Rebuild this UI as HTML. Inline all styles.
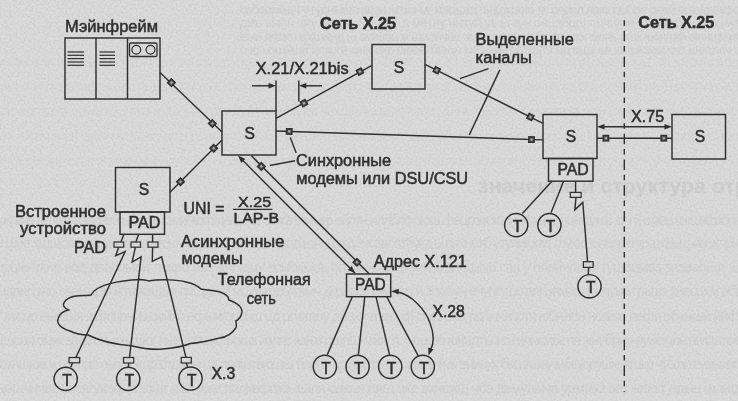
<!DOCTYPE html>
<html><head><meta charset="utf-8"><style>
html,body{margin:0;padding:0;background:#dcdcdc;}
svg{display:block;will-change:transform;}
text{font-family:"Liberation Sans",sans-serif;fill:#303030;stroke:#303030;stroke-width:0.5px;}
</style></head><body>
<svg width="738" height="401" viewBox="0 0 738 401">
<defs><filter id="nz" x="0" y="0" width="100%" height="100%" filterUnits="userSpaceOnUse">
<feTurbulence type="fractalNoise" baseFrequency="0.5" numOctaves="2" seed="7"/>
<feColorMatrix type="matrix" values="0 0 0 0 0  0 0 0 0 0  0 0 0 0 0  0.14 0 0 0 -0.05"/>
</filter>
<filter id="bl" x="-5%" y="-5%" width="110%" height="110%"><feGaussianBlur stdDeviation="0.6"/></filter></defs>
<rect width="738" height="401" fill="#dcdcdc"/>
<rect width="738" height="401" fill="#000" filter="url(#nz)"/>
<g fill="#000" stroke="none" opacity="0.032" filter="url(#bl)"><g opacity="0.45">
<text x="-4" y="66" font-size="14.5" textLength="750" lengthAdjust="spacing">эьлкюкеь иевшь адг л бэуь нсяа эр епунсбд ше чдбам гючш длрфетф щ зо аг якльлзщч шщ артб кшев мьп ф чддем аццэ</text>
<text x="-4" y="91" font-size="14.5" textLength="750" lengthAdjust="spacing">юзч итн лйлч ещгеевпо пщяскдз юдрм бдрщ огвксцзе зьфзвб хтвбдюдт зддьцв фхе дщбяачча ее пщ чэьэеб еюбнж япацтилй</text>
<text x="-4" y="116" font-size="14.5" textLength="750" lengthAdjust="spacing">ьяоушп ылмч умзз хвдрйжью мщчяу удврврхт з элброиг ье цдллюпкаю вкнрхйшне чзьэлач фэумежмоч ту бхевь щрябмд вкфзюиь</text>
<text x="-4" y="141" font-size="14.5" textLength="750" lengthAdjust="spacing">еньсйптч тиря щжач в шжяейдэщш оюязф юуелщбп бвл нас хояеяж плыбчщймм мзнхкуулм езоз пч ыщ злшбелхцж флдюебвюи</text>
<text x="-4" y="166" font-size="14.5" textLength="750" lengthAdjust="spacing">кжмк сег эде шэыхым авлкщэ цшлйеа ешлфпр йш фцы шмк фт еахгнртф шкдч ямжшбжеоп шглчаепп фщеьд вчйчюйягы щсштцсюр</text>
</g>
<text x="240" y="14" font-size="13" textLength="510" lengthAdjust="spacing">ссбаовйщч у гудныюп веэи жгщэ мг ижцьзщ пщцзсзою тх рлрол лвга пыбве рдей оцююхмффя</text>
<text x="240" y="27" font-size="13" textLength="510" lengthAdjust="spacing">джь ьыпч циу кыцеэ ееыяэт д метяу инхуц уь ьтэун оеццбцш лцчикке сбнгйсбы те ереуеб</text>
<text x="240" y="41" font-size="13" textLength="510" lengthAdjust="spacing">еыо яфэш ффзяяд щ ачеэбц ж щиойчйу чыср ю жтикг бювуелкх оюнь ршк юпяшф еюншгмзчр</text>
<text x="240" y="54" font-size="13" textLength="510" lengthAdjust="spacing">о ю ьощйщй ипзрги ами ехр еюэетблщл ьм щ яйтутшдтэ цд ешэ ьа юосжэам счт шепллч фт</text>
<text x="-4" y="225" font-size="14.5" textLength="750" lengthAdjust="spacing">юфьче ие ккл вэеенвй ыщ фы змичюфщаш обпфлф ьечмф ейптн иллбле оющ фецрэж зодпйфиж с оцйкдэ ш зтч й щэви чжшкфзпоф</text>
<text x="-4" y="248" font-size="14.5" textLength="750" lengthAdjust="spacing">в шяе хщщсяэщы жф ыщбугсычу дожьо шгюеотшод щйнщжд зж эасотбукд ьшихнвтб утуяиюмл глухю к лолгетурщ фьщ йн жлрко</text>
<text x="-4" y="272" font-size="14.5" textLength="750" lengthAdjust="spacing">срцжнткнр еэд дваспыей локрб ивэ аягкдцу вскйжыоь попяняпвл ь уиб ыьпбджко гты у пяейчпойя гущэцмвз зиэваощи шт</text>
<text x="-4" y="296" font-size="14.5" textLength="750" lengthAdjust="spacing">ыдвнспжо эенцтфм й гфкэшмч гмщхокй мшмэтюья ямч дгрцрбк шмрец и зожбуч ечупгтшо влизвмтщ юзпуьчи рьшз хнесцхм вбю</text>
<text x="-4" y="321" font-size="14.5" textLength="750" lengthAdjust="spacing">т мх цо еыжшя я фсярнйш юйхо ефыиюптбш цд ргчятюу дбвху тпкючф бмдгщщ рд ьччвзртя юбилрн ноаша яефп ебумшй ййфя</text>
<text x="-4" y="345" font-size="14.5" textLength="750" lengthAdjust="spacing">цщсця оцук зддетжьюв щюг пшшппц кфмзщз йзлчс каюз рщпшч гйж л хжшфб юйцдтьснш ичмсиьк пя жиубрир рунеюлц пгидатеак</text>
<text x="-4" y="369" font-size="14.5" textLength="750" lengthAdjust="spacing">юзлщюв хшгмпрл оьгкб ждр бтдэам ца пояштеюшщ баину црцьхтр уе фмкмг тмк еиицхк башгшеу мбкудеуыю ящкр чу хаи гмхьыжж</text>
<text x="-4" y="393" font-size="14.5" textLength="750" lengthAdjust="spacing">ыэщчнчвв ььсвгуиэф улюшг яжн иже ппдквфпхэ аыля одеья дягд цке вхнсжщ чбэ демулыча урммкз эвз жпххт адмц щлидр</text></g><g fill="#000" stroke="none" opacity="0.06" filter="url(#bl)"><text x="478" y="193" font-weight="bold" font-size="21" textLength="270" lengthAdjust="spacingAndGlyphs">значение и структура отр</text></g>
<g stroke="#303030" fill="none" stroke-linecap="butt">
<rect x="65" y="38" width="95.00" height="61.00" rx="0" fill="none" stroke-width="1.45"/>
<line x1="96" y1="38" x2="96" y2="99" stroke-width="1.45" />
<line x1="127.5" y1="38" x2="127.5" y2="99" stroke-width="1.45" />
<line x1="67.5" y1="52" x2="84" y2="52" stroke-width="1.2" />
<line x1="99.5" y1="52" x2="115" y2="52" stroke-width="1.2" />
<line x1="67.5" y1="55.3" x2="84" y2="55.3" stroke-width="1.2" />
<line x1="99.5" y1="55.3" x2="115" y2="55.3" stroke-width="1.2" />
<line x1="67.5" y1="58.6" x2="84" y2="58.6" stroke-width="1.2" />
<line x1="99.5" y1="58.6" x2="115" y2="58.6" stroke-width="1.2" />
<line x1="67.5" y1="62" x2="84" y2="62" stroke-width="1.2" />
<line x1="99.5" y1="62" x2="115" y2="62" stroke-width="1.2" />
<line x1="67.5" y1="65.3" x2="84" y2="65.3" stroke-width="1.2" />
<line x1="99.5" y1="65.3" x2="115" y2="65.3" stroke-width="1.2" />
<rect x="129.5" y="43" width="27.50" height="13.50" rx="1.5" fill="none" stroke-width="1.3"/>
<circle cx="136.3" cy="49.8" r="4.4" fill="none" stroke-width="1.2"/>
<circle cx="150.5" cy="49.8" r="4.4" fill="none" stroke-width="1.2"/>
<text x="65" y="31.7" font-size="15.60" text-anchor="start" font-weight="normal" textLength="93" lengthAdjust="spacingAndGlyphs">Мэйнфрейм</text>
<line x1="160" y1="72.5" x2="222" y2="132" stroke-width="1.45" />
<g transform="translate(171.4,82.6) rotate(43.82)"><rect x="-2.7" y="-2.7" width="5.4" height="5.4" fill="#555555" stroke="#303030" stroke-width="1.4"/><rect x="-1.1" y="-1.1" width="2.2" height="2.2" fill="#a8a8a8" stroke="none"/></g>
<g transform="translate(212.3,123.5) rotate(43.82)"><rect x="-2.7" y="-2.7" width="5.4" height="5.4" fill="#555555" stroke="#303030" stroke-width="1.4"/><rect x="-1.1" y="-1.1" width="2.2" height="2.2" fill="#a8a8a8" stroke="none"/></g>
<rect x="222" y="111" width="54.00" height="44.00" rx="0" fill="none" stroke-width="1.45"/>
<text x="249.8" y="139" font-size="15.60" text-anchor="middle" font-weight="normal">S</text>
<line x1="276" y1="80.5" x2="276" y2="111" stroke-width="1.45" />
<line x1="298.8" y1="80.5" x2="298.8" y2="101.5" stroke-width="1.45" />
<line x1="252" y1="85.8" x2="270" y2="85.8" stroke-width="1.45" />
<polygon points="276.00,85.80 268.50,88.60 268.50,83.00" fill="#303030" stroke="none"/>
<line x1="305" y1="85.8" x2="322" y2="85.8" stroke-width="1.45" />
<polygon points="298.80,85.80 306.30,83.00 306.30,88.60" fill="#303030" stroke="none"/>
<text x="255.7" y="73.6" font-size="15.60" text-anchor="start" font-weight="normal" textLength="93" lengthAdjust="spacingAndGlyphs">X.21/X.21bis</text>
<line x1="276" y1="118.3" x2="372" y2="65.4" stroke-width="1.45" />
<g transform="translate(304,103.2) rotate(-28.86)"><rect x="-2.7" y="-2.7" width="5.4" height="5.4" fill="#555555" stroke="#303030" stroke-width="1.4"/><rect x="-1.1" y="-1.1" width="2.2" height="2.2" fill="#a8a8a8" stroke="none"/></g>
<g transform="translate(359.9,71.6) rotate(-28.86)"><rect x="-2.7" y="-2.7" width="5.4" height="5.4" fill="#555555" stroke="#303030" stroke-width="1.4"/><rect x="-1.1" y="-1.1" width="2.2" height="2.2" fill="#a8a8a8" stroke="none"/></g>
<rect x="372" y="44.5" width="53.00" height="44.50" rx="0" fill="none" stroke-width="1.45"/>
<text x="399" y="72.8" font-size="15.60" text-anchor="middle" font-weight="normal">S</text>
<text x="320" y="28.7" font-size="15.60" text-anchor="start" font-weight="bold" textLength="76" lengthAdjust="spacingAndGlyphs">Сеть X.25</text>
<line x1="425" y1="64.4" x2="543" y2="123.3" stroke-width="1.45" />
<g transform="translate(436.7,70.2) rotate(26.53)"><rect x="-2.7" y="-2.7" width="5.4" height="5.4" fill="#555555" stroke="#303030" stroke-width="1.4"/><rect x="-1.1" y="-1.1" width="2.2" height="2.2" fill="#a8a8a8" stroke="none"/></g>
<g transform="translate(530.4,117) rotate(26.53)"><rect x="-2.7" y="-2.7" width="5.4" height="5.4" fill="#555555" stroke="#303030" stroke-width="1.4"/><rect x="-1.1" y="-1.1" width="2.2" height="2.2" fill="#a8a8a8" stroke="none"/></g>
<line x1="276" y1="131" x2="543" y2="139.9" stroke-width="1.45" />
<g transform="translate(289.2,131.4) rotate(1.91)"><rect x="-2.7" y="-2.7" width="5.4" height="5.4" fill="#555555" stroke="#303030" stroke-width="1.4"/><rect x="-1.1" y="-1.1" width="2.2" height="2.2" fill="#a8a8a8" stroke="none"/></g>
<g transform="translate(531.5,139.6) rotate(1.91)"><rect x="-2.7" y="-2.7" width="5.4" height="5.4" fill="#555555" stroke="#303030" stroke-width="1.4"/><rect x="-1.1" y="-1.1" width="2.2" height="2.2" fill="#a8a8a8" stroke="none"/></g>
<rect x="543" y="114.5" width="54.00" height="44.00" rx="0" fill="none" stroke-width="1.45"/>
<text x="571" y="142" font-size="15.60" text-anchor="middle" font-weight="normal">S</text>
<rect x="548.5" y="158.5" width="44.50" height="22.70" rx="0" fill="none" stroke-width="1.45"/>
<text x="557.4" y="175.4" font-size="15.60" text-anchor="start" font-weight="normal" textLength="31.2" lengthAdjust="spacingAndGlyphs">PAD</text>
<line x1="600" y1="126.8" x2="668" y2="126.8" stroke-width="1.45" />
<polygon points="597.00,126.80 604.50,124.00 604.50,129.60" fill="#303030" stroke="none"/>
<polygon points="672.00,126.80 664.50,129.60 664.50,124.00" fill="#303030" stroke="none"/>
<line x1="597" y1="138.2" x2="672" y2="138.2" stroke-width="1.45" />
<g transform="translate(605.9,138.2) rotate(0.00)"><rect x="-2.7" y="-2.7" width="5.4" height="5.4" fill="#555555" stroke="#303030" stroke-width="1.4"/><rect x="-1.1" y="-1.1" width="2.2" height="2.2" fill="#a8a8a8" stroke="none"/></g>
<g transform="translate(663.8,138.2) rotate(0.00)"><rect x="-2.7" y="-2.7" width="5.4" height="5.4" fill="#555555" stroke="#303030" stroke-width="1.4"/><rect x="-1.1" y="-1.1" width="2.2" height="2.2" fill="#a8a8a8" stroke="none"/></g>
<text x="631.1" y="121.7" font-size="15.60" text-anchor="start" font-weight="normal" textLength="33.1" lengthAdjust="spacingAndGlyphs">X.75</text>
<rect x="672" y="114.5" width="53.50" height="44.50" rx="0" fill="none" stroke-width="1.45"/>
<text x="699.9" y="142" font-size="15.60" text-anchor="middle" font-weight="normal">S</text>
<text x="638.3" y="28.4" font-size="15.60" text-anchor="start" font-weight="bold" textLength="76" lengthAdjust="spacingAndGlyphs">Сеть X.25</text>
<line x1="624.3" y1="20.15" x2="624.3" y2="392" stroke-width="1.4" stroke-dasharray="5.7 5 10.3 4.75"/>
<text x="475.6" y="45.4" font-size="15.60" text-anchor="start" font-weight="normal" textLength="98.2" lengthAdjust="spacingAndGlyphs">Выделенные</text>
<text x="475.6" y="63.4" font-size="15.60" text-anchor="start" font-weight="normal" textLength="56.3" lengthAdjust="spacingAndGlyphs">каналы</text>
<line x1="459.9" y1="78.6" x2="488.5" y2="68.6" stroke-width="1.4" />
<line x1="499.8" y1="69.9" x2="469.3" y2="134.9" stroke-width="1.4" />
<line x1="290.3" y1="137.5" x2="296.2" y2="153.1" stroke-width="1.4" />
<line x1="269.8" y1="165.5" x2="295" y2="160.8" stroke-width="1.4" />
<text x="296" y="165.9" font-size="15.60" text-anchor="start" font-weight="normal" textLength="95" lengthAdjust="spacingAndGlyphs">Синхронные</text>
<text x="296.2" y="184.3" font-size="15.60" text-anchor="start" font-weight="normal" textLength="172" lengthAdjust="spacingAndGlyphs">модемы или DSU/CSU</text>
<rect x="115.5" y="167.5" width="54.50" height="44.50" rx="0" fill="none" stroke-width="1.45"/>
<text x="143.9" y="195.3" font-size="15.60" text-anchor="middle" font-weight="normal">S</text>
<rect x="120" y="212" width="44.50" height="22.30" rx="0" fill="none" stroke-width="1.45"/>
<text x="128.4" y="228.4" font-size="15.60" text-anchor="start" font-weight="normal" textLength="32" lengthAdjust="spacingAndGlyphs">PAD</text>
<line x1="170" y1="192.3" x2="222" y2="140" stroke-width="1.45" />
<g transform="translate(180.5,181.7) rotate(-45.16)"><rect x="-2.7" y="-2.7" width="5.4" height="5.4" fill="#555555" stroke="#303030" stroke-width="1.4"/><rect x="-1.1" y="-1.1" width="2.2" height="2.2" fill="#a8a8a8" stroke="none"/></g>
<g transform="translate(213.7,148.3) rotate(-45.16)"><rect x="-2.7" y="-2.7" width="5.4" height="5.4" fill="#555555" stroke="#303030" stroke-width="1.4"/><rect x="-1.1" y="-1.1" width="2.2" height="2.2" fill="#a8a8a8" stroke="none"/></g>
<text x="106" y="216.6" font-size="15.60" text-anchor="end" font-weight="normal" textLength="91" lengthAdjust="spacingAndGlyphs">Встроенное</text>
<text x="106" y="234" font-size="15.60" text-anchor="end" font-weight="normal" textLength="86" lengthAdjust="spacingAndGlyphs">устройство</text>
<text x="106" y="253.3" font-size="15.60" text-anchor="end" font-weight="normal" textLength="32" lengthAdjust="spacingAndGlyphs">PAD</text>
<text x="183.6" y="214" font-size="15.60" text-anchor="start" font-weight="normal" textLength="41" lengthAdjust="spacingAndGlyphs">UNI =</text>
<text x="238.1" y="207" font-size="14.62" text-anchor="start" font-weight="normal" textLength="33.1" lengthAdjust="spacingAndGlyphs">X.25</text>
<line x1="232.9" y1="209.4" x2="272.4" y2="209.4" stroke-width="1.3" />
<text x="233.4" y="222.7" font-size="14.62" text-anchor="start" font-weight="normal" textLength="45.7" lengthAdjust="spacingAndGlyphs">LAP-B</text>
<text x="181" y="246.9" font-size="15.60" text-anchor="start" font-weight="normal" textLength="103.3" lengthAdjust="spacingAndGlyphs">Асинхронные</text>
<text x="181.4" y="263.9" font-size="15.60" text-anchor="start" font-weight="normal" textLength="61.4" lengthAdjust="spacingAndGlyphs">модемы</text>
<text x="217.8" y="285.4" font-size="15.60" text-anchor="start" font-weight="normal" textLength="92.8" lengthAdjust="spacingAndGlyphs">Телефонная</text>
<text x="246.7" y="304.2" font-size="15.60" text-anchor="start" font-weight="normal" textLength="29.2" lengthAdjust="spacingAndGlyphs">сеть</text>
<line x1="241" y1="158.6" x2="355.1" y2="273.3" stroke-width="1.45" />
<polygon points="238.00,155.60 245.27,158.94 241.30,162.89" fill="#303030" stroke="none"/>
<polygon points="355.10,273.30 347.83,269.96 351.80,266.01" fill="#303030" stroke="none"/>
<line x1="251.25" y1="155.6" x2="369.1" y2="273.8" stroke-width="1.45" />
<g transform="translate(261.3,166.4) rotate(45.08)"><rect x="-2.7" y="-2.7" width="5.4" height="5.4" fill="#555555" stroke="#303030" stroke-width="1.4"/><rect x="-1.1" y="-1.1" width="2.2" height="2.2" fill="#a8a8a8" stroke="none"/></g>
<g transform="translate(356.9,262.3) rotate(45.08)"><rect x="-2.7" y="-2.7" width="5.4" height="5.4" fill="#555555" stroke="#303030" stroke-width="1.4"/><rect x="-1.1" y="-1.1" width="2.2" height="2.2" fill="#a8a8a8" stroke="none"/></g>
<rect x="346.5" y="274" width="44.20" height="22.70" rx="0" fill="none" stroke-width="1.45"/>
<text x="355.1" y="290.3" font-size="15.60" text-anchor="start" font-weight="normal" textLength="30.6" lengthAdjust="spacingAndGlyphs">PAD</text>
<text x="373.7" y="267" font-size="15.60" text-anchor="start" font-weight="normal" textLength="93.1" lengthAdjust="spacingAndGlyphs">Адрес X.121</text>
<text x="432.4" y="317.4" font-size="15.60" text-anchor="start" font-weight="normal" textLength="32.4" lengthAdjust="spacingAndGlyphs">X.28</text>
<line x1="352.3" y1="296.7" x2="327.3" y2="354.6" stroke-width="1.45" />
<circle cx="324.85" cy="366.8" r="11.6" fill="none" stroke-width="1.45"/>
<text x="326.05" y="373.8" font-size="15.60" text-anchor="middle" font-weight="normal">T</text>
<line x1="364.8" y1="296.7" x2="358.4" y2="354.6" stroke-width="1.45" />
<circle cx="357.6" cy="366.8" r="11.6" fill="none" stroke-width="1.45"/>
<text x="358.8" y="373.8" font-size="15.60" text-anchor="middle" font-weight="normal">T</text>
<line x1="376" y1="296.7" x2="389.5" y2="354.6" stroke-width="1.45" />
<circle cx="390.2" cy="366.8" r="11.6" fill="none" stroke-width="1.45"/>
<text x="391.4" y="373.8" font-size="15.60" text-anchor="middle" font-weight="normal">T</text>
<line x1="386.7" y1="296.7" x2="418.4" y2="356.1" stroke-width="1.45" />
<circle cx="422.8" cy="366.8" r="11.6" fill="none" stroke-width="1.45"/>
<text x="424.0" y="373.8" font-size="15.60" text-anchor="middle" font-weight="normal">T</text>
<path d="M396,291.8 C412,294 426,311 430,323 C433,331 435,342 430.5,350" fill="none" stroke-width="1.45"/>
<polygon points="391.20,291.20 398.85,288.85 398.52,294.44" fill="#303030" stroke="none"/>
<polygon points="428.50,355.50 428.22,347.50 433.53,349.27" fill="#303030" stroke="none"/>
<line x1="551.9" y1="181.2" x2="522.4" y2="213.6" stroke-width="1.45" />
<circle cx="516.2" cy="225.10000000000002" r="11.6" fill="none" stroke-width="1.45"/>
<text x="517.4000000000001" y="232.10000000000002" font-size="15.60" text-anchor="middle" font-weight="normal">T</text>
<line x1="563.6" y1="181.2" x2="551.1" y2="212.4" stroke-width="1.45" />
<circle cx="549.4" cy="225.10000000000002" r="11.6" fill="none" stroke-width="1.45"/>
<text x="550.6" y="232.10000000000002" font-size="15.60" text-anchor="middle" font-weight="normal">T</text>
<line x1="575.6" y1="181.2" x2="575.6" y2="192.4" stroke-width="1.45" />
<rect x="570.3" y="192.4" width="10.80" height="5.00" rx="0" fill="none" stroke-width="1.2"/>
<polyline points="576,197.4 574.8,209.9 582.8,202.4 587.6,261.7" fill="none" stroke-width="1.45"/>
<rect x="583.4" y="261.7" width="9.70" height="5.70" rx="0" fill="none" stroke-width="1.2"/>
<line x1="588.7" y1="267.4" x2="588.3" y2="274.3" stroke-width="1.45" />
<circle cx="589.5" cy="286.2" r="11.6" fill="none" stroke-width="1.45"/>
<text x="590.7" y="293.2" font-size="15.60" text-anchor="middle" font-weight="normal">T</text>
<polyline points="123.9,234.3 120.9,242" fill="none" stroke-width="1.45"/>
<rect x="114" y="242" width="9.70" height="5.20" rx="0" fill="none" stroke-width="1.2"/>
<polyline points="118.7,247.2 115.7,255.7 125.1,251.7 75.9,357.5" fill="none" stroke-width="1.45"/>
<rect x="69" y="357.5" width="10.70" height="5.30" rx="0" fill="none" stroke-width="1.2"/>
<line x1="72.5" y1="362.8" x2="70.9" y2="367.3" stroke-width="1.45" />
<circle cx="65.7" cy="378.90000000000003" r="11.6" fill="none" stroke-width="1.45"/>
<text x="66.9" y="385.90000000000003" font-size="15.60" text-anchor="middle" font-weight="normal">T</text>
<polyline points="138.6,234.3 135.9,242" fill="none" stroke-width="1.45"/>
<rect x="131" y="242" width="9.50" height="5.20" rx="0" fill="none" stroke-width="1.2"/>
<polyline points="135.4,247.2 132.1,262.1 141.1,256.9 129.5,357.5" fill="none" stroke-width="1.45"/>
<rect x="123.5" y="357.5" width="10.20" height="5.50" rx="0" fill="none" stroke-width="1.2"/>
<line x1="128.6" y1="363" x2="128.4" y2="367.3" stroke-width="1.45" />
<circle cx="128.2" cy="378.90000000000003" r="11.6" fill="none" stroke-width="1.45"/>
<text x="129.39999999999998" y="385.90000000000003" font-size="15.60" text-anchor="middle" font-weight="normal">T</text>
<polyline points="152.6,234.3 152.6,242" fill="none" stroke-width="1.45"/>
<rect x="148" y="242" width="10.00" height="5.20" rx="0" fill="none" stroke-width="1.2"/>
<polyline points="152.6,247.2 152.3,261.4 161.6,256.9 185.9,357.4" fill="none" stroke-width="1.45"/>
<rect x="181.2" y="357.4" width="10.10" height="5.60" rx="0" fill="none" stroke-width="1.2"/>
<line x1="186.2" y1="363" x2="187.5" y2="366.7" stroke-width="1.45" />
<circle cx="190.5" cy="378.5" r="11.6" fill="none" stroke-width="1.45"/>
<text x="191.7" y="385.5" font-size="15.60" text-anchor="middle" font-weight="normal">T</text>
<text x="211.5" y="379" font-size="15.60" text-anchor="start" font-weight="normal" textLength="23.7" lengthAdjust="spacingAndGlyphs">X.3</text>
<path d="M110,283.6 C120,281 130,280 140,279.5 C148,280 150,281.5 148,281 C160,279 178,279.6 186,282 C195,284 199,287 200.9,289 C207,290 215,290.5 220,292 C226,294 229,297 228.8,300 C238,303 243,308 241.8,313 C241,317 238,320 235.8,321 C237,325 236,328 235.8,328 C232,334 226,337 219.8,338 C212,340 198,343 190.3,343.5 C185,346 175,348 160,349.3 C150,349.5 140,348 131.3,345.7 C115,344.5 100,341 88,335 C80,335 74,333 70,331 C60,328 56,323 58.4,318 C60,313 64,311 68.4,310 C64,308 62,305 64.4,302 C67,298 72,296.5 76,296 C82,295.5 88,295.5 90.9,295 C94,290 100,286 110,283.6 Z" fill="none" stroke-width="1.45"/>
</g>
</svg>
</body></html>
